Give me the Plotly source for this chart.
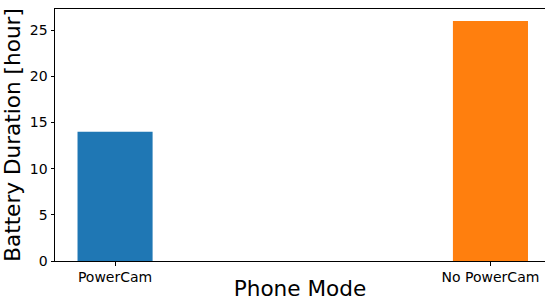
import plotly.graph_objects as go

categories = ["PowerCam", "No PowerCam"]
durations = [14, 26]
colors = ["#1f77b4", "#ff7f0e"]
y_ticks = [0, 5, 10, 15, 20, 25]

positions = list(range(len(categories)))

fig = go.Figure()
fig.add_trace(go.Bar(x=positions, y=durations, width=0.2, marker=dict(color=colors, line=dict(width=0)), showlegend=False))

font = "DejaVu Sans, sans-serif"
fig.update_layout(
    template="none",
    width=545, height=301,
    margin=dict(l=55, r=0, t=9, b=40, autoexpand=False),
    paper_bgcolor="white", plot_bgcolor="white",
    font=dict(family=font, color="black"),
)
fig.update_xaxes(
    range=[-0.16, 1.1453], tickvals=positions, ticktext=categories, automargin=False,
    tickfont=dict(size=14), ticks="outside", ticklen=3.5, tickcolor="black", tickwidth=1,
    showline=True, linecolor="black", linewidth=1, mirror=True, showgrid=False, zeroline=False,
    title=dict(text="Phone Mode", font=dict(size=21.6), standoff=4),
)
fig.update_yaxes(
    range=[0, 27.3], tickvals=y_ticks, automargin=False,
    tickfont=dict(size=14), ticks="outside", ticklen=3.5, tickcolor="black", tickwidth=1,
    showline=True, linecolor="black", linewidth=1, mirror=False, showgrid=False, zeroline=False,
    title=dict(text="Battery Duration [hour]", font=dict(size=21.6), standoff=6),
)
fig.write_html("out.html", config={"displayModeBar": False},
               post_script="document.body.style.margin='0';document.body.style.overflow='hidden';")
